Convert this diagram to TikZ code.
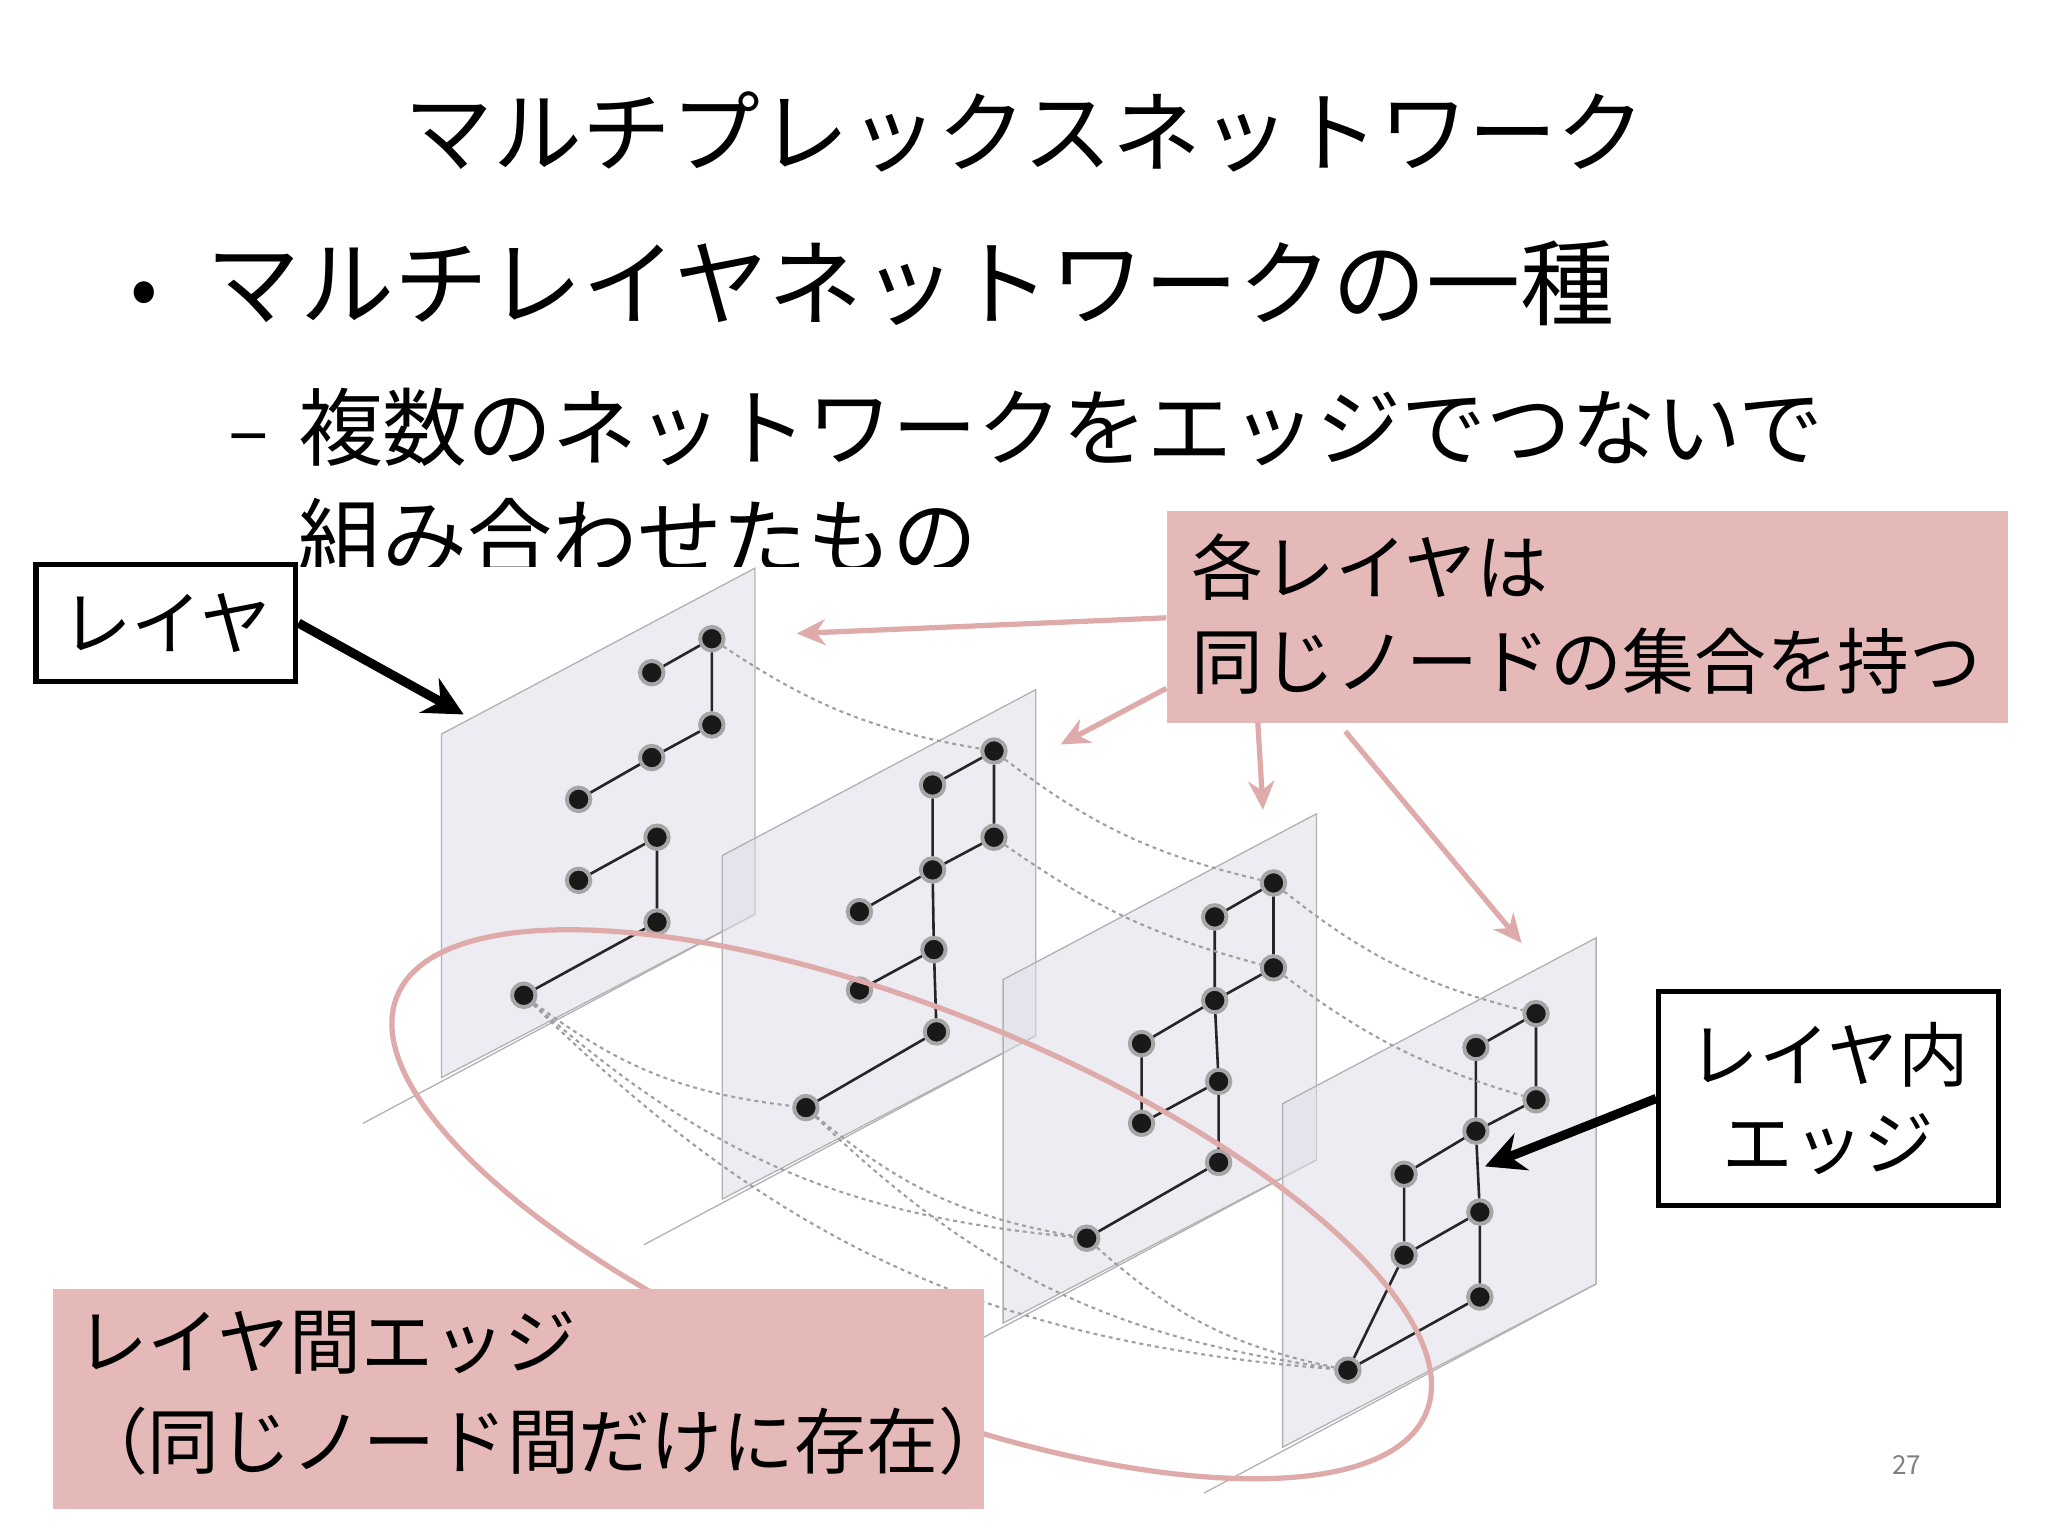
\documentclass[tikz,border=0pt]{standalone}
\usepackage{fontspec}
\newfontfamily\jp{Noto Sans CJK JP}
\usetikzlibrary{arrows.meta}
\definecolor{pinkbox}{RGB}{230,185,185}
\definecolor{pinkline}{RGB}{222,170,170}
\definecolor{planefill}{RGB}{222,222,232}
\begin{document}
\begin{tikzpicture}[x=1pt,y=-1pt,
  dot/.style={circle,fill=black!90,draw=black!35,line width=3pt,inner sep=0,minimum size=18pt},
  ed/.style={line width=2pt,black!85},
  ia/.style={dashed,gray!75,line width=1.6pt},
  plane/.style={draw=gray!60,fill=planefill,fill opacity=0.55,line width=1pt},
  floor/.style={gray!60,line width=1pt},
  pbox/.style={fill=pinkbox,draw=none},
  parrow/.style={pinkline,line width=4pt,-{Stealth[length=22pt,width=20pt]}},
  bbox/.style={draw=black,line width=4pt,fill=white},
  barrow/.style={black,line width=7pt,-{Stealth[length=30pt,width=30pt]}},
  txt/.style={font=\jp,inner sep=0}]
\useasboundingbox (0,0) rectangle (1568,1176);
\fill[white] (0,0) rectangle (1568,1176);
\node[txt,font=\jp\fontsize{68}{80}\selectfont,anchor=base] (title) at (785,127) {マルチプレックスネットワーク};
\node[txt,font=\jp\fontsize{62}{72}\selectfont,anchor=base west] (bul) at (100,242) {•};
\node[txt,font=\jp\fontsize{72}{80}\selectfont,anchor=base west] (b1) at (158,244) {マルチレイヤネットワークの一種};
\node[txt,font=\jp\fontsize{58}{70}\selectfont,anchor=base west] (dash) at (175,350) {–};
\node[txt,font=\jp\fontsize{65}{70}\selectfont,anchor=base west] (b2) at (228,352) {複数のネットワークをエッジでつないで};
\node[txt,font=\jp\fontsize{65}{70}\selectfont,anchor=base west] (b3) at (228,436) {組み合わせたもの};
\fill[white] (230,434) rectangle (1250,1165);
% floor lines
\foreach \dx/\dy in {0/0,215/93,430/188,644/283}{
  \draw[floor] (278+\dx,860+\dy) -- (578+\dx,700+\dy);
}
% planes
\foreach \dx/\dy in {0/0,215/93,430/188,644/283}{
  \draw[plane] (338+\dx,562+\dy) -- (578+\dx,435+\dy) -- (578+\dx,700+\dy) -- (338+\dx,825+\dy) -- cycle;
}
% nodes plane1
\node[dot] (a1) at (545,489) {}; \node[dot] (a2) at (499,515) {}; \node[dot] (a3) at (545,555) {};
\node[dot] (a4) at (499,580) {}; \node[dot] (a5) at (443,612) {}; \node[dot] (a6) at (503,641) {};
\node[dot] (a7) at (443,674) {}; \node[dot] (a8) at (503,706) {}; \node[dot] (a9) at (401,762) {};
% plane2
\node[dot] (b1n) at (761,575) {}; \node[dot] (b2n) at (714,601) {}; \node[dot] (b3n) at (761,641) {};
\node[dot] (b4n) at (714,666) {}; \node[dot] (b5n) at (658,698) {}; \node[dot] (b6n) at (715,727) {};
\node[dot] (b7n) at (658,758) {}; \node[dot] (b8n) at (717,790) {}; \node[dot] (b9n) at (617,848) {};
% plane3
\node[dot] (c1) at (975,676) {}; \node[dot] (c2) at (930,702) {}; \node[dot] (c3) at (975,741) {};
\node[dot] (c4) at (930,766) {}; \node[dot] (c5) at (874,799) {}; \node[dot] (c6) at (933,828) {};
\node[dot] (c7) at (874,860) {}; \node[dot] (c8) at (933,890) {}; \node[dot] (c9) at (832,948) {};
% plane4
\node[dot] (d1) at (1176,776) {}; \node[dot] (d2) at (1130,802) {}; \node[dot] (d3) at (1176,842) {};
\node[dot] (d4) at (1130,866) {}; \node[dot] (d5) at (1075,899) {}; \node[dot] (d6) at (1133,928) {};
\node[dot] (d7) at (1075,961) {}; \node[dot] (d8) at (1133,993) {}; \node[dot] (d9) at (1032,1049) {};
% intra edges
\draw[ed] (a2)--(a1)--(a3)--(a4)--(a5) (a7)--(a6)--(a8)--(a9);
\draw[ed] (b2n)--(b1n)--(b3n)--(b4n)--(b2n) (b4n)--(b5n) (b4n)--(b6n)--(b7n) (b6n)--(b8n)--(b9n);
\draw[ed] (c2)--(c1)--(c3)--(c4)--(c2) (c4)--(c5)--(c7)--(c6)--(c4) (c6)--(c8)--(c9);
\draw[ed] (d2)--(d1)--(d3)--(d4)--(d2) (d4)--(d5)--(d7)--(d6)--(d4) (d6)--(d8)--(d9)--(d7);
% inter-layer edges
\draw[ia] (a1) to[bend right=12] (b1n);
\draw[ia] (b1n) to[bend right=12] (c1);
\draw[ia] (c1) to[bend right=12] (d1);
\draw[ia] (b3n) to[bend right=10] (c3);
\draw[ia] (c3) to[bend right=10] (d3);
\draw[ia] (a9) to[bend right=15] (b9n);
\draw[ia] (a9) to[bend right=18] (c9);
\draw[ia] (a9) to[bend right=20] (d9);
\draw[ia] (b9n) to[bend right=15] (c9);
\draw[ia] (b9n) to[bend right=18] (d9);
\draw[ia] (c9) to[bend right=15] (d9);
% ellipse
\draw[pinkline,line width=4pt,rotate around={-22:(698,922)}] (698,922) ellipse (425 and 148);
% pink boxes
\node[pbox,txt,minimum width=644pt,minimum height=162pt,anchor=north west] (same) at (893,391) {};
\node[txt,font=\jp\fontsize{55}{72}\selectfont,align=left,anchor=north west] (samet) at (912,408) {各レイヤは\\同じノードの集合を持つ};
\node[pbox,txt,minimum width=713pt,minimum height=168pt,anchor=north west] (inter) at (40,987) {};
\node[txt,font=\jp\fontsize{55}{76}\selectfont,align=left,anchor=north west] (intert) at (58,1004) {レイヤ間エッジ\\（同じノード間だけに存在）};
\coordinate (s1) at (893,473); \coordinate (e1) at (610,485);
\coordinate (s2) at (893,527); \coordinate (e2) at (812,570);
\coordinate (s3) at (963,553); \coordinate (e3) at (967,620);
\coordinate (s4) at (1030,560); \coordinate (e4) at (1165,722);
\draw[parrow] (s1)--(e1); \draw[parrow] (s2)--(e2); \draw[parrow] (s3)--(e3); \draw[parrow] (s4)--(e4);
% black boxes
\node[bbox,txt,minimum width=199pt,minimum height=90pt,font=\jp\fontsize{54}{60}\selectfont] (layer) at (127,477) {レイヤ};
\coordinate (la) at (355,547);
\draw[barrow] (layer.east)--(la);
\node[bbox,txt,minimum width=260pt,minimum height=164pt,align=center,font=\jp\fontsize{54}{68}\selectfont] (intra) at (1400,841) {レイヤ内\\エッジ};
\coordinate (ia) at (1137,893);
\draw[barrow] (intra.west)--(ia);
\node[txt,font=\jp\fontsize{20}{24}\selectfont,text=gray] (pg) at (1460,1122) {27};
\end{tikzpicture}
\end{document}
